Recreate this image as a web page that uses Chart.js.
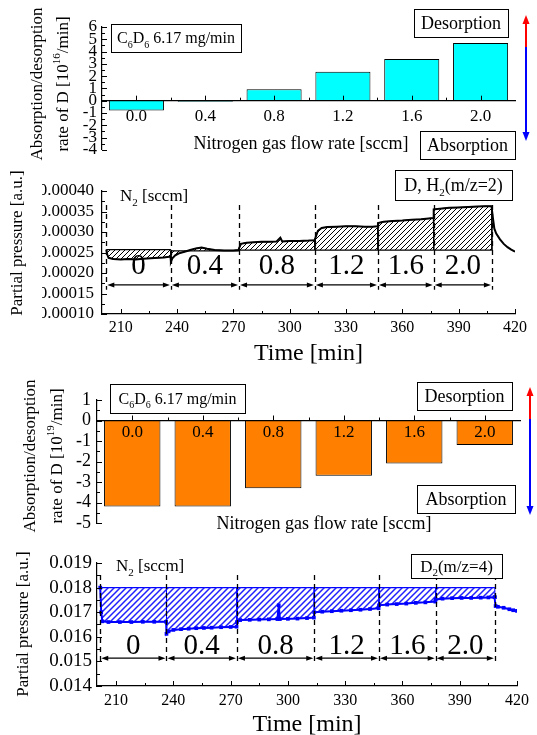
<!DOCTYPE html>
<html>
<head>
<meta charset="utf-8">
<script src="https://cdn.jsdelivr.net/npm/chart.js@4.4.1/dist/chart.umd.min.js"></script>
<style>
  body { margin: 0; background: #fff; }
  #wrap { position: relative; width: 537px; height: 735px; }
  canvas { position: absolute; left: 0; }
</style>
</head>
<body>
<div id="wrap">
  <canvas id="c1" width="537" height="165" style="top:0px"></canvas>
  <canvas id="c2" width="537" height="205" style="top:165px"></canvas>
  <canvas id="c3" width="537" height="170" style="top:370px"></canvas>
  <canvas id="c4" width="537" height="195" style="top:540px"></canvas>
</div>
<script>
// ---- data ----
var flowRates = ['0.0', '0.4', '0.8', '1.2', '1.6', '2.0'];
var segLabels = ['0', '0.4', '0.8', '1.2', '1.6', '2.0'];

// absorption(-)/desorption(+) rate of D, top panel [1e16/min], third panel [1e19/min]
var rateH = [-0.8, -0.08, 0.93, 2.35, 3.4, 4.7];
var rateD2 = [-4.2, -4.2, -3.3, -2.7, -2.1, -1.2];
var ticksRateH = [6, 5, 4, 3, 2, 1, 0, -1, -2, -3, -4];
var ticksRateD2 = [1, 0, -1, -2, -3, -4, -5];

var ticksTime = [210, 240, 270, 300, 330, 360, 390, 420];
var ticksPH = [0.0001, 0.00015, 0.0002, 0.00025, 0.0003, 0.00035, 0.0004];
var ticksPD2 = [0.014, 0.015, 0.016, 0.017, 0.018, 0.019];

// D, H2 (m/z=2) signal
var edgesH = [202.3, 236.7, 273.0, 313.4, 347.0, 376.7, 407.7];
var levelsH = [0.000257, 0.000254, 0.000256, 0.000256, 0.000256, 0.000256];
var timeH = [202.3, 202.8, 203.5, 206, 210, 214, 218, 222, 226, 230, 233, 236.5,
  236.7, 237.5, 239, 241, 244, 247, 250, 253, 256, 260, 265, 270, 272.8,
  273.0, 274, 277, 281, 285, 289, 293, 295, 296, 300, 305, 310, 313.2,
  313.4, 315, 317, 320, 325, 330, 335, 340, 344, 346.8,
  347.0, 350, 355, 360, 365, 370, 374, 376.5,
  376.7, 380, 385, 390, 395, 400, 404, 407.5,
  407.7, 408.2, 409, 410, 412, 414, 416, 418, 420];
var pressH = [0.000257, 0.000245, 0.000237, 0.000234, 0.000233, 0.000234, 0.000233, 0.000235, 0.000236, 0.000237, 0.000238, 0.000240,
  0.000227, 0.000236, 0.000243, 0.000248, 0.000252, 0.000256, 0.000260, 0.000262, 0.000259, 0.000256, 0.000255, 0.000255, 0.000256,
  0.000260, 0.000271, 0.000274, 0.000275, 0.000276, 0.000276, 0.000277, 0.000286, 0.000277, 0.000278, 0.000278, 0.000279, 0.000280,
  0.000282, 0.000303, 0.000310, 0.000312, 0.000313, 0.000314, 0.000314, 0.000313, 0.000313, 0.000314,
  0.000322, 0.000325, 0.000327, 0.000328, 0.000330, 0.000331, 0.000333, 0.000334,
  0.000355, 0.000357, 0.000359, 0.000360, 0.000361, 0.000362, 0.000363, 0.000363,
  0.000363, 0.000335, 0.000308, 0.000296, 0.000282, 0.000271, 0.000263, 0.000257, 0.000252];

// D2 (m/z=4) signal
var edgesD2 = [201.7, 236.4, 273.3, 313.8, 347.7, 377.4, 408.4];
var levelsD2 = [0.018, 0.018, 0.018, 0.018, 0.018, 0.018];
var timeD2 = [201.7, 202.2, 202.8, 206, 212, 218, 224, 230, 236.2,
  236.4, 237.5, 240, 244, 248, 252, 256, 260, 265, 270, 273.1,
  273.3, 275, 280, 285, 290, 294.5, 295.2, 295.8, 300, 305, 310, 313.6,
  313.8, 318, 323, 328, 333, 338, 343, 347.5,
  347.7, 352, 357, 362, 367, 372, 377.2,
  377.4, 381, 386, 391, 396, 401, 405, 408.2,
  408.4, 408.8, 410, 413, 416, 418, 420];
var pressD2 = [0.0180, 0.0170, 0.01663, 0.01660, 0.01660, 0.01660, 0.01661, 0.01661, 0.01661,
  0.01612, 0.01622, 0.01628, 0.01631, 0.01633, 0.01635, 0.01636, 0.01637, 0.01639, 0.01640, 0.01641,
  0.01660, 0.01668, 0.01669, 0.01670, 0.01671, 0.01672, 0.01728, 0.01672, 0.01673, 0.01674, 0.01676, 0.01678,
  0.01700, 0.01702, 0.01704, 0.01706, 0.01708, 0.01710, 0.01713, 0.01716,
  0.01728, 0.01731, 0.01733, 0.01735, 0.01738, 0.01740, 0.01743,
  0.01752, 0.01755, 0.01757, 0.01758, 0.01758, 0.01759, 0.01760, 0.01761,
  0.01761, 0.01725, 0.01722, 0.01718, 0.01712, 0.01708, 0.01705];

// ---- text pieces ----
var SERIF = '"Liberation Serif", "Times New Roman", serif';
var txtC6D6 = [['C'], ['6', 'sub'], ['D'], ['6', 'sub'], [' 6.17 mg/min']];
var txtN2 = [['N'], ['2', 'sub'], [' [sccm]']];
var txtDH2 = [['D, H'], ['2', 'sub'], ['(m/z=2)']];
var txtD2 = [['D'], ['2', 'sub'], ['(m/z=4)']];

// ---- drawing helpers ----
function rich(ctx, parts, x, y, size, align) {
  var small = Math.round(size * 0.62), w = 0;
  parts.forEach(function (p) {
    ctx.font = (p[1] ? small : size) + 'px ' + SERIF;
    w += ctx.measureText(p[0]).width;
  });
  var cx = align === 'center' ? x - w / 2 : x;
  ctx.textAlign = 'left';
  ctx.textBaseline = 'alphabetic';
  parts.forEach(function (p) {
    ctx.font = (p[1] ? small : size) + 'px ' + SERIF;
    var dy = p[1] === 'sub' ? size * 0.28 : p[1] === 'sup' ? -size * 0.42 : 0;
    ctx.fillText(p[0], cx, y + dy);
    cx += ctx.measureText(p[0]).width;
  });
}

function textBox(ctx, x, y, w, h, parts, size) {
  ctx.fillStyle = '#fff';
  ctx.fillRect(x, y, w, h);
  ctx.strokeStyle = '#000';
  ctx.lineWidth = 1;
  ctx.strokeRect(x + 0.5, y + 0.5, w, h);
  ctx.fillStyle = '#000';
  rich(ctx, parts, x + w / 2, y + h / 2 + size * 0.33, size, 'center');
}

function vText(ctx, x, yc, parts, size) {
  ctx.save();
  ctx.translate(x, yc);
  ctx.rotate(-Math.PI / 2);
  ctx.fillStyle = '#000';
  rich(ctx, parts, 0, size * 0.33, size, 'center');
  ctx.restore();
}

// red (desorption) / blue (absorption) double arrow
function vArrow(ctx, x, yTop, yMid, yBot) {
  ctx.lineWidth = 2;
  ctx.strokeStyle = ctx.fillStyle = '#ff0000';
  ctx.beginPath(); ctx.moveTo(x, yTop + 6); ctx.lineTo(x, yMid); ctx.stroke();
  ctx.beginPath(); ctx.moveTo(x, yTop); ctx.lineTo(x - 3.5, yTop + 9); ctx.lineTo(x + 3.5, yTop + 9); ctx.fill();
  ctx.strokeStyle = ctx.fillStyle = '#0000ff';
  ctx.beginPath(); ctx.moveTo(x, yMid); ctx.lineTo(x, yBot - 6); ctx.stroke();
  ctx.beginPath(); ctx.moveTo(x, yBot); ctx.lineTo(x - 3.5, yBot - 9); ctx.lineTo(x + 3.5, yBot - 9); ctx.fill();
}

function hArrow(ctx, x1, x2, y) {
  ctx.lineWidth = 1.3;
  ctx.beginPath(); ctx.moveTo(x1 + 4, y); ctx.lineTo(x2 - 4, y); ctx.stroke();
  ctx.beginPath();
  ctx.moveTo(x1, y); ctx.lineTo(x1 + 7, y - 2.5); ctx.lineTo(x1 + 7, y + 2.5); ctx.closePath();
  ctx.moveTo(x2, y); ctx.lineTo(x2 - 7, y - 2.5); ctx.lineTo(x2 - 7, y + 2.5); ctx.closePath();
  ctx.fill();
}

function hatch(color, gap, width) {
  var c = document.createElement('canvas');
  c.width = gap; c.height = gap;
  var g = c.getContext('2d');
  g.strokeStyle = color;
  g.lineWidth = width;
  g.beginPath();
  g.moveTo(0, gap); g.lineTo(gap, 0);
  g.moveTo(-1, 1); g.lineTo(1, -1);
  g.moveTo(gap - 1, gap + 1); g.lineTo(gap + 1, gap - 1);
  g.stroke();
  return g.createPattern(c, 'repeat');
}

// origin-style inward tick marks
function innerTicks(xAtZero) {
  return {
    id: 'innerTicks',
    afterDraw: function (chart) {
      var ctx = chart.ctx, a = chart.chartArea, xs = chart.scales.x, ys = chart.scales.y;
      var axisY = xAtZero ? ys.getPixelForValue(0) : a.bottom;
      var yv = ys.ticks.map(function (t) { return t.value; });
      var xp = xs.ticks.map(function (t, i) { return xs.getPixelForTick(i); });
      ctx.save();
      ctx.strokeStyle = '#000';
      ctx.lineWidth = 1;
      ctx.beginPath();
      yv.forEach(function (v, i) {
        var p = Math.round(ys.getPixelForValue(v)) + 0.5;
        ctx.moveTo(a.left, p); ctx.lineTo(a.left + 5, p);
        if (i > 0) {
          var m = Math.round(ys.getPixelForValue((v + yv[i - 1]) / 2)) + 0.5;
          ctx.moveTo(a.left, m); ctx.lineTo(a.left + 3, m);
        }
      });
      xp.forEach(function (p, i) {
        var q = Math.round(p) + 0.5;
        ctx.moveTo(q, axisY); ctx.lineTo(q, axisY - 5);
        if (i > 0) {
          var m = Math.round((p + xp[i - 1]) / 2) + 0.5;
          ctx.moveTo(m, axisY); ctx.lineTo(m, axisY - 3);
        }
      });
      ctx.stroke();
      ctx.restore();
    }
  };
}

// dashed separators, double arrows and flow-rate labels for the time traces
function segmentDeco(edges, v) {
  return {
    id: 'segmentDeco',
    afterDatasetsDraw: function (chart) {
      var ctx = chart.ctx, xs = chart.scales.x, ys = chart.scales.y;
      ctx.save();
      ctx.strokeStyle = ctx.fillStyle = '#000';
      ctx.lineWidth = 1.3;
      ctx.setLineDash([5, 4]);
      edges.forEach(function (e) {
        var px = Math.round(xs.getPixelForValue(e)) + 0.5;
        ctx.beginPath();
        ctx.moveTo(px, ys.getPixelForValue(v.dashTop));
        ctx.lineTo(px, ys.getPixelForValue(v.dashBot));
        ctx.stroke();
      });
      ctx.setLineDash([]);
      var ay = ys.getPixelForValue(v.arrowY), ly = ys.getPixelForValue(v.labelY);
      for (var k = 0; k < segLabels.length; k++) {
        var x1 = xs.getPixelForValue(edges[k]), x2 = xs.getPixelForValue(edges[k + 1]);
        hArrow(ctx, x1 + 1, x2 - 1, ay);
        ctx.font = v.labelSize + 'px ' + SERIF;
        ctx.textAlign = 'center';
        ctx.textBaseline = 'middle';
        ctx.fillText(segLabels[k], (x1 + x2) / 2, ly);
      }
      ctx.restore();
    }
  };
}

function overlay(fn) {
  return { id: 'overlay', afterDraw: function (chart) { var ctx = chart.ctx; ctx.save(); fn(ctx, chart); ctx.restore(); } };
}

// one full-trace line on top, then a hatched patch per flow step
function traceSets(time, press, edges, levels, color, pattern, marks) {
  var sets = [{
    data: time.map(function (t, i) { return { x: t, y: press[i] }; }),
    borderColor: color, backgroundColor: color, borderWidth: 2,
    pointRadius: marks ? 1.2 : 0, pointStyle: 'rect', fill: false
  }];
  for (var k = 0; k < levels.length; k++) {
    var pts = [{ x: edges[k], y: levels[k] }], last = levels[k];
    time.forEach(function (t, i) {
      if (t >= edges[k] && t < edges[k + 1]) { pts.push({ x: t, y: press[i] }); last = press[i]; }
    });
    pts.push({ x: edges[k + 1], y: last });
    pts.push({ x: edges[k + 1], y: levels[k] });
    sets.push({ data: pts, borderColor: color, borderWidth: 1, pointRadius: 0,
      backgroundColor: pattern, fill: { value: levels[k] } });
    sets.push({ data: [{ x: edges[k], y: levels[k] }, { x: edges[k + 1], y: levels[k] }],
      borderColor: color, borderWidth: 1.3, pointRadius: 0, fill: false });
  }
  return sets;
}

function font(size) { return { family: SERIF, size: size }; }

var common = {
  responsive: false,
  animation: false,
  devicePixelRatio: 1,
  events: []
};

function baseOptions(pad, yCfg, xCfg) {
  return Object.assign({}, common, {
    layout: { padding: pad },
    plugins: { legend: { display: false }, tooltip: { enabled: false } },
    scales: { x: xCfg, y: yCfg }
  });
}

function yAxis(min, max, list, fmt, size, pad) {
  return {
    min: min, max: max,
    afterBuildTicks: function (s) { s.ticks = list.map(function (v) { return { value: v }; }); },
    afterFit: function (s) { s.width = 60; },
    grid: { display: false, drawTicks: false },
    border: { color: '#000', width: 1.2 },
    ticks: { autoSkip: false, padding: pad, color: '#000', font: font(size), callback: fmt }
  };
}

function timeAxis(pad) {
  return {
    type: 'linear', min: 200, max: 420,
    afterBuildTicks: function (s) { s.ticks = ticksTime.map(function (v) { return { value: v }; }); },
    afterFit: function (s) { s.height = 40; },
    grid: { display: false, drawTicks: false },
    border: { color: '#000', width: 1.2 },
    ticks: { autoSkip: false, maxRotation: 0, padding: pad, color: '#000', font: font(16),
      callback: function (v) { return String(v); } }
  };
}

function rateAxis(pad) {
  return {
    position: { y: 0 },
    grid: { display: false, drawTicks: false },
    border: { color: '#000', width: 1.2, z: 1 },
    ticks: { autoSkip: false, maxRotation: 0, padding: pad, color: '#000', font: font(17), z: 1 }
  };
}

// ---- panel 1: H/D rate bars ----
new Chart(document.getElementById('c1'), {
  type: 'bar',
  data: { labels: flowRates, datasets: [{ data: rateH, backgroundColor: '#00ffff', borderColor: '#000',
    borderWidth: 1, barPercentage: 0.8, categoryPercentage: 1 }] },
  options: baseOptions({ left: 42, right: 22, top: 27, bottom: 13 },
    yAxis(-4, 6, ticksRateH, function (v) { return String(v); }, 17, 5), rateAxis(6)),
  plugins: [innerTicks(true), overlay(function (ctx) {
    textBox(ctx, 111, 24, 130, 28, txtC6D6, 16);
    textBox(ctx, 414, 9, 94, 28, [['Desorption']], 18);
    textBox(ctx, 420, 131, 95, 28, [['Absorption']], 18);
    vArrow(ctx, 526, 15, 47, 141);
    ctx.fillStyle = '#000';
    rich(ctx, [['Nitrogen gas flow rate [sccm]']], 301, 149, 18, 'center');
    vText(ctx, 36, 84, [['Absorption/desorption']], 17);
    vText(ctx, 62, 84, [['rate of D [10'], ['16', 'sup'], ['/min]']], 17);
  })]
});

// ---- panel 2: D, H2 trace ----
new Chart(document.getElementById('c2'), {
  type: 'line',
  data: { datasets: traceSets(timeH, pressH, edgesH, levelsH, '#000', hatch('#000', 5, 1), false) },
  options: baseOptions({ left: 42, right: 22, top: 26, bottom: 16 },
    yAxis(0.0001, 0.0004, ticksPH, function (v) { return v.toFixed(5); }, 17, 8), timeAxis(4)),
  plugins: [innerTicks(false),
    segmentDeco(edgesH, { dashTop: 0.000366, dashBot: 0.000159, arrowY: 0.000171, labelY: 0.000215, labelSize: 29 }),
    overlay(function (ctx, chart) {
      ctx.fillStyle = '#000';
      rich(ctx, txtN2, 120, 36, 17, 'left');
      textBox(ctx, 395, 5, 117, 30, txtDH2, 18);
      vText(ctx, 16, 78, [['Partial pressure [a.u.]']], 17);
      ctx.fillStyle = '#000';
      var a = chart.chartArea;
      rich(ctx, [['Time [min]']], (a.left + a.right) / 2, 195, 24, 'center');
    })]
});

// ---- panel 3: D2 rate bars ----
new Chart(document.getElementById('c3'), {
  type: 'bar',
  data: { labels: flowRates, datasets: [{ data: rateD2, backgroundColor: '#ff8000', borderColor: '#000',
    borderWidth: 1, barPercentage: 0.8, categoryPercentage: 1 }] },
  options: baseOptions({ left: 37, right: 17, top: 30, bottom: 17 },
    yAxis(-5, 1, ticksRateD2, function (v) { return String(v); }, 18, 6), rateAxis(2)),
  plugins: [innerTicks(true), overlay(function (ctx) {
    textBox(ctx, 110, 14, 135, 29, txtC6D6, 16);
    textBox(ctx, 417, 12, 95, 28, [['Desorption']], 18);
    textBox(ctx, 417, 115, 98, 28, [['Absorption']], 18);
    vArrow(ctx, 530, 17, 49, 145);
    ctx.fillStyle = '#000';
    rich(ctx, [['Nitrogen gas flow rate [sccm]']], 324, 159, 18, 'center');
    vText(ctx, 29, 86, [['Absorption/desorption']], 17);
    vText(ctx, 56, 86, [['rate of D [10'], ['19', 'sup'], ['/min]']], 17);
  })]
});

// ---- panel 4: D2 trace ----
new Chart(document.getElementById('c4'), {
  type: 'line',
  data: { datasets: traceSets(timeD2, pressD2, edgesD2, levelsD2, '#0000ff', hatch('#2020ff', 6, 1.5), true) },
  options: baseOptions({ left: 37, right: 20, top: 23, bottom: 9 },
    yAxis(0.014, 0.019, ticksPD2, function (v) { return v.toFixed(3); }, 19, 5), timeAxis(5)),
  plugins: [innerTicks(false),
    segmentDeco(edgesD2, { dashTop: 0.01851, dashBot: 0.01495, arrowY: 0.01513, labelY: 0.0156, labelSize: 29 }),
    overlay(function (ctx, chart) {
      ctx.fillStyle = '#000';
      rich(ctx, txtN2, 116, 31, 17, 'left');
      textBox(ctx, 411, 14, 91, 24, txtD2, 17);
      vText(ctx, 22, 84, [['Partial pressure [a.u.]']], 17);
      ctx.fillStyle = '#000';
      var a = chart.chartArea;
      rich(ctx, [['Time [min]']], (a.left + a.right) / 2, 191, 24, 'center');
    })]
});
</script>
</body>
</html>
